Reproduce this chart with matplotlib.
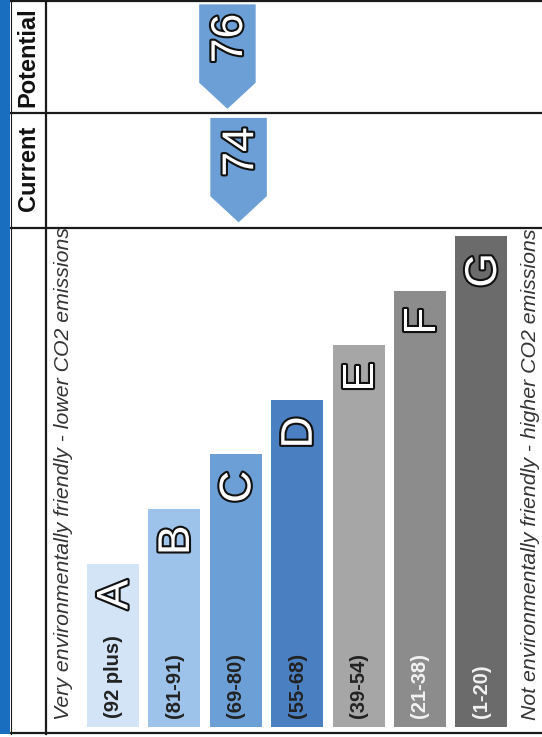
import matplotlib.pyplot as plt
import matplotlib.patches as mpatches
import matplotlib.patheffects as pe

plt.rcParams['font.family'] = ['Liberation Sans', 'DejaVu Sans']

# rating bands, best to worst
bands = ['A', 'B', 'C', 'D', 'E', 'F', 'G']
ranges = ['(92 plus)', '(81-91)', '(69-80)', '(55-68)', '(39-54)', '(21-38)', '(1-20)']
band_low = [92, 81, 69, 55, 39, 21, 1]
band_high = [100, 91, 80, 68, 54, 38, 20]
bar_len = [3, 4, 5, 6, 7, 8, 9]
band_colors = ['#d2e4f6', '#9dc3ea', '#6b9fd6', '#4a7fc1', '#a6a6a6', '#8c8c8c', '#6b6b6b']
range_colors = ['#222222', '#222222', '#222222', '#222222', '#222222', '#f2f2f2', '#f2f2f2']

# scores
score_names = ['Potential', 'Current']
scores = [76, 74]

W, H = 542, 737
fig = plt.figure(figsize=(W / 100, H / 100), dpi=100)

# frame: blue strip, grid lines and row labels, in pixel units
frame = fig.add_axes([0, 0, 1, 1])
frame.set_xlim(0, W)
frame.set_ylim(H, 0)
frame.set_axis_off()
frame.add_patch(mpatches.Rectangle((0, 0), 10, 734, facecolor='#1a6ebf', edgecolor='none'))
for y in [1, 113, 228, 733]:
    frame.plot([10, W], [y, y], color='#1a1a1a', lw=1.6, solid_capstyle='butt')
frame.plot([46, 46], [0, 734], color='#1a1a1a', lw=1.6)
frame.plot([10.5, 10.5], [0, 734], color='#1a1a1a', lw=0.8)
frame.text(28, 57, 'Potential', rotation=90, ha='center', va='center',
           fontsize=17, fontweight='bold', color='#111111')
frame.text(28, 168, 'Current', rotation=90, ha='center', va='center',
           fontsize=17, fontweight='bold', color='#111111')

# bars
ax = fig.add_axes([47 / W, (H - 727) / H, (W - 47) / W, 499 / H])
ax.patch.set_alpha(0)
pitch = 61.4
x_left = -(113 - 47) / pitch
x_right = (W - 113) / pitch
ax.set_xlim(x_left, x_right)
ax.set_ylim(0, 499 / 54.5)
ax.set_axis_off()

xs = list(range(len(bands)))
ax.bar(xs, bar_len, width=0.85, color=band_colors, align='center')

outline = [pe.withStroke(linewidth=3, foreground='#111111')]
for i in xs:
    ax.text(i, 0.17, ranges[i], rotation=90, ha='center', va='bottom',
            fontsize=14.5, fontweight='bold', color=range_colors[i])
    t = ax.text(i + 0.05, bar_len[i] - 0.3, bands[i], rotation=90, ha='center', va='top',
                fontsize=32, color='white')
    t.set_path_effects(outline)

ax.text(0.034, 0.014, 'Very environmentally friendly - lower CO2 emissions', transform=ax.transAxes,
        rotation=90, ha='center', va='bottom', fontsize=15.3, style='italic', color='#333333')
ax.text(0.976, 0.014, 'Not environmentally friendly - higher CO2 emissions', transform=ax.transAxes,
        rotation=90, ha='center', va='bottom', fontsize=15.3, style='italic', color='#333333')

# score arrows in the header rows
hdr = fig.add_axes([47 / W, (H - 228) / H, (W - 47) / W, 227 / H])
hdr.patch.set_alpha(0)
hdr.set_xlim(x_left, x_right)
hdr.set_ylim(2, 0)
hdr.set_axis_off()

for row, s in enumerate(scores):
    b = next(k for k in xs if band_low[k] <= s <= band_high[k])
    xc = b - 0.5 + (band_high[b] - s) / (band_high[b] - band_low[b])
    hw = 0.46
    top, shoulder, tip = row + 0.03, row + 0.72, row + 0.95
    arrow = mpatches.Polygon([(xc - hw, top), (xc + hw, top), (xc + hw, shoulder),
                              (xc, tip), (xc - hw, shoulder)],
                             closed=True, facecolor=band_colors[b], edgecolor='none')
    hdr.add_patch(arrow)
    t = hdr.text(xc + 0.05, row + 0.33, str(s), rotation=90, ha='center', va='center',
                 fontsize=32, color='white')
    t.set_path_effects(outline)

fig.savefig('out.png', dpi=100)
